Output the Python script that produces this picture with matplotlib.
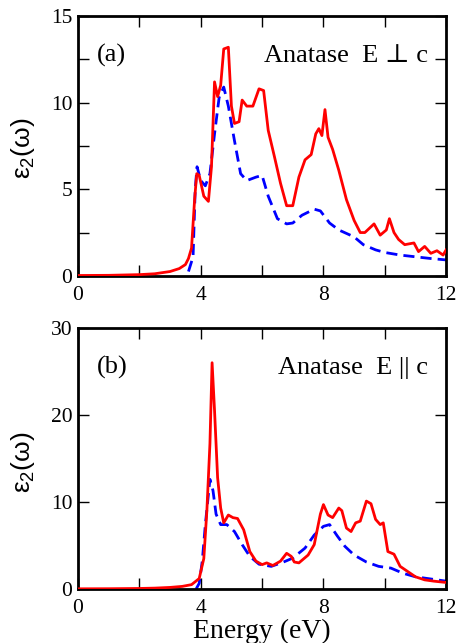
"""
Anatase TiO2 imaginary dielectric function, E perp c and E par c.
"""

import numpy as np
import matplotlib
matplotlib.use("Agg")
import matplotlib.pyplot as plt
from matplotlib.ticker import MultipleLocator

plt.rcParams.update({"font.family": ["Liberation Serif", "DejaVu Serif", "DejaVu Sans"],
                     "mathtext.fontset": "custom",
                     "mathtext.rm": "Liberation Sans",
                     "mathtext.it": "Liberation Sans",
                     "axes.linewidth": 2.0})

# ── panel (a): E perp c ──────────────────────────────────────────────
a_red_x = [0.0, 1.0, 2.0, 2.5, 3.0, 3.3, 3.5, 3.6, 3.7, 3.8, 3.87, 3.95, 4.1, 4.25,
           4.35, 4.45, 4.55, 4.65, 4.75, 4.9, 5.0, 5.1, 5.25, 5.35, 5.5, 5.7, 5.9,
           6.05, 6.2, 6.4, 6.6, 6.8, 7.0, 7.2, 7.4, 7.6, 7.75, 7.85, 7.95, 8.05,
           8.15, 8.3, 8.5, 8.75, 9.0, 9.2, 9.35, 9.65, 9.85, 10.05, 10.15, 10.3,
           10.45, 10.65, 10.95, 11.1, 11.3, 11.5, 11.7, 11.9, 12.0]
a_red_y = [0.02, 0.03, 0.07, 0.12, 0.25, 0.42, 0.65, 1.0, 1.6, 4.4, 5.9, 5.8, 4.6, 4.3,
           6.3, 11.2, 10.35, 11.0, 13.1, 13.2, 9.8, 8.8, 8.9, 10.15, 9.8, 9.8, 10.8,
           10.7, 8.4, 6.9, 5.35, 4.05, 4.05, 5.7, 6.7, 7.0, 8.2, 8.5, 8.1, 9.6,
           8.0, 7.3, 6.1, 4.4, 3.2, 2.5, 2.5, 3.0, 2.35, 2.65, 3.3, 2.5,
           2.1, 1.8, 1.9, 1.4, 1.7, 1.3, 1.45, 1.2, 1.5]

a_blue_x = [3.6, 3.75, 3.82, 3.88, 4.0, 4.15, 4.3, 4.45, 4.6, 4.75, 4.9, 5.1, 5.3,
            5.5, 5.8, 6.0, 6.2, 6.5, 6.8, 7.0, 7.3, 7.7, 7.9, 8.2, 8.5, 9.0, 9.3,
            9.7, 10.0, 10.5, 11.0, 11.5, 12.0]
a_blue_y = [0.25, 1.1, 5.0, 6.3, 5.5, 5.2, 5.9, 8.2, 10.3, 10.9, 9.8, 7.8, 5.9,
            5.5, 5.7, 5.8, 4.6, 3.3, 3.0, 3.05, 3.5, 3.85, 3.75, 3.05, 2.65, 2.25, 1.8,
            1.5, 1.35, 1.2, 1.1, 1.0, 0.92]

# ── panel (b): E par c ───────────────────────────────────────────────
b_red_x = [0.0, 1.0, 2.0, 2.5, 3.0, 3.4, 3.7, 3.95, 4.1, 4.2, 4.3, 4.37, 4.45, 4.55,
           4.65, 4.75, 4.9, 5.05, 5.2, 5.4, 5.6, 5.8, 6.0, 6.15, 6.35, 6.6, 6.8,
           6.95, 7.05, 7.2, 7.5, 7.7, 7.9, 8.0, 8.15, 8.3, 8.5, 8.6, 8.75, 8.9,
           9.05, 9.2, 9.4, 9.55, 9.7, 9.85, 9.95, 10.1, 10.3, 10.5, 10.75, 11.0,
           11.3, 11.6, 12.0]
b_red_y = [0.02, 0.03, 0.06, 0.1, 0.18, 0.3, 0.5, 1.2, 3.5, 9.0, 16.7, 26.0, 20.5, 12.8,
           9.3, 7.6, 8.5, 8.2, 8.1, 6.8, 4.3, 3.2, 2.8, 3.0, 2.7, 3.2, 4.1,
           3.75, 3.1, 3.0, 3.9, 5.1, 8.6, 9.7, 8.5, 8.2, 9.3, 9.0, 7.0, 6.6,
           7.6, 7.8, 10.1, 9.8, 8.0, 7.4, 7.6, 4.3, 4.0, 2.6, 2.0, 1.4,
           1.05, 0.9, 0.75]

b_blue_x = [3.85, 3.95, 4.05, 4.15, 4.3, 4.4, 4.5, 4.65, 4.85, 5.1, 5.35, 5.6, 5.9,
            6.3, 6.7, 7.0, 7.4, 7.7, 8.0, 8.2, 8.45, 8.7, 9.0, 9.4, 9.8, 10.2,
            10.6, 11.0, 11.5, 12.0]
b_blue_y = [0.0, 0.65, 3.2, 7.4, 12.6, 11.3, 8.6, 7.4, 7.4, 6.6, 5.1, 3.75, 2.85,
            2.6, 3.1, 3.55, 4.7, 6.2, 7.2, 7.4, 6.1, 4.9, 3.9, 3.1, 2.6, 2.4,
            1.8, 1.4, 1.15, 0.9]

x_ticks = [0, 4, 8, 12]

fig = plt.figure(figsize=(4.59, 6.43), dpi=100)
ax1 = fig.add_axes([0.170, 0.571, 0.802, 0.404])
ax2 = fig.add_axes([0.170, 0.084, 0.802, 0.406])

panels = [
    (ax1, a_red_x, a_red_y, a_blue_x, a_blue_y, 15, 5, 2.5, "(a)", "Anatase  E \u22a5 c"),
    (ax2, b_red_x, b_red_y, b_blue_x, b_blue_y, 30, 10, 10, "(b)", "Anatase  E || c"),
]

for ax, rx, ry, bx, by, ymax, ymaj, ymin, tag, title in panels:
    ax.plot(rx, ry, color="#ff0000", lw=2.0, zorder=3)
    ax.plot(bx, by, color="#0000ff", lw=2.0, dashes=(4.0, 2.2), zorder=2)
    ax.set_xlim(0, 12)
    ax.set_ylim(0, ymax)
    ax.set_xticks(x_ticks)
    ax.xaxis.set_minor_locator(MultipleLocator(2))
    ax.yaxis.set_major_locator(MultipleLocator(ymaj))
    ax.yaxis.set_minor_locator(MultipleLocator(ymin))
    ax.tick_params(which="both", direction="in", top=True, right=True,
                   length=8, width=1.0, labelsize=15.5)
    ax.tick_params(axis="x", pad=7)
    ax.tick_params(axis="y", pad=4)
    ax.text(0.05, 0.825, tag, transform=ax.transAxes, fontsize=19, va="baseline")
    ax.text(0.95, 0.825, title, transform=ax.transAxes, fontsize=19,
            va="baseline", ha="right")

fig.text(0.05, 1 - 148 / 643, r"$\varepsilon_2(\omega)$", rotation=90,
         fontsize=19, ha="center", va="center")
fig.text(0.05, 1 - 462 / 643, r"$\varepsilon_2(\omega)$", rotation=90,
         fontsize=19, ha="center", va="center")
ax2.set_xlabel("Energy (eV)", fontsize=20, labelpad=1)

fig.savefig("out.png", dpi=100)
